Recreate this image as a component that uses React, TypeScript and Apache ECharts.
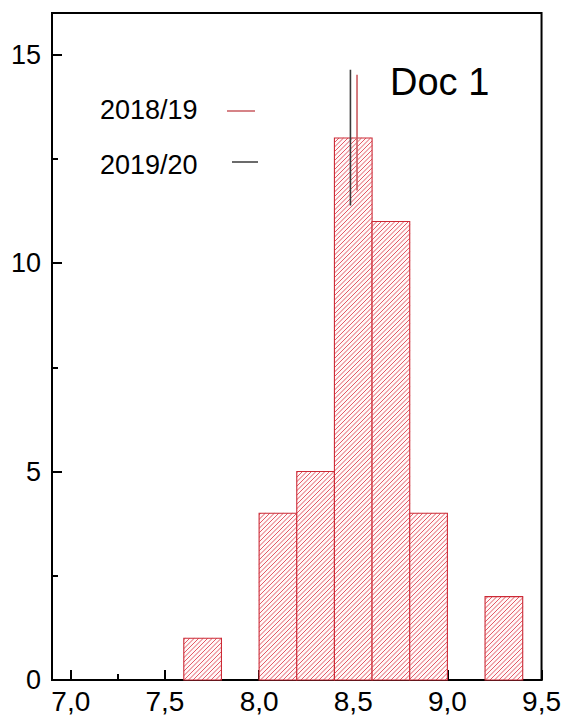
import React, { useEffect, useRef } from "react";
import * as echarts from "echarts";

// ---- data ----
const binLeft = [7.6, 8.0, 8.2, 8.4, 8.6, 8.8, 9.2];
const binWidth = 0.2;
const counts = [1, 4, 5, 13, 11, 4, 2];

const xMajorTicks = [7.0, 7.5, 8.0, 8.5, 9.0, 9.5];
const xMinorTicks = [7.25, 7.75, 8.25, 8.75, 9.25];
const yMajorTicks = [0, 5, 10, 15];
const yMinorTicks = [2.5, 7.5, 12.5];

const seriesNames = ["2018/19", "2019/20"];
const lineX = [8.52, 8.485];
const lineYLow = [11.74, 11.38];
const lineYHigh = [14.52, 14.64];

const title = "Doc 1";

const FONT = 'Arial, "Liberation Sans", Helvetica, sans-serif';
const RED_EDGE = "#cc2a36";
const RED_HATCH = "#e0505e";
const lineColors = ["#c95a5f", "#3a3a3a"];

export default function App() {
  const ref = useRef<HTMLDivElement>(null);
  useEffect(() => {
    const chart = echarts.init(ref.current!, null, { renderer: "svg" });
    const fmt = (v: number) => v.toFixed(1).replace(".", ",");
    const option: any = {
      animation: false,
      backgroundColor: "#fff",
      title: {
        text: title,
        left: 390,
        top: 63,
        padding: 0,
        textStyle: { fontSize: 38, fontWeight: "normal", color: "#000", fontFamily: FONT },
      },
      grid: {
        left: 52,
        right: 22,
        top: 13,
        bottom: 37,
        show: true,
        borderColor: "#000",
        borderWidth: 2,
        backgroundColor: "transparent",
      },
      xAxis: [
        {
          type: "value",
          min: 6.9,
          max: 9.5,
          position: "bottom",
          axisLine: { show: true, onZero: false, lineStyle: { color: "#000", width: 2 } },
          axisTick: {
            show: true,
            inside: true,
            length: 10,
            customValues: xMajorTicks,
            lineStyle: { color: "#000", width: 2 },
          },
          axisLabel: {
            customValues: xMajorTicks,
            formatter: (v: number) => fmt(v),
            fontSize: 28,
            color: "#000",
            fontFamily: FONT,
            margin: 7,
          },
          splitLine: { show: false },
        },
        {
          type: "value",
          min: 6.9,
          max: 9.5,
          position: "bottom",
          axisLine: { show: false, onZero: false },
          axisTick: {
            show: true,
            inside: true,
            length: 6,
            customValues: xMinorTicks,
            lineStyle: { color: "#000", width: 2 },
          },
          axisLabel: { show: false },
          splitLine: { show: false },
        },
      ],
      yAxis: [
        {
          type: "value",
          min: 0,
          max: 16,
          position: "left",
          axisLine: { show: true, onZero: false, lineStyle: { color: "#000", width: 2 } },
          axisTick: {
            show: true,
            inside: true,
            length: 10,
            customValues: yMajorTicks,
            lineStyle: { color: "#000", width: 2 },
          },
          axisLabel: {
            customValues: yMajorTicks,
            fontSize: 27,
            color: "#000",
            fontFamily: FONT,
            margin: 11,
          },
          splitLine: { show: false },
        },
        {
          type: "value",
          min: 0,
          max: 16,
          position: "left",
          axisLine: { show: false, onZero: false },
          axisTick: {
            show: true,
            inside: true,
            length: 6,
            customValues: yMinorTicks,
            lineStyle: { color: "#000", width: 2 },
          },
          axisLabel: { show: false },
          splitLine: { show: false },
        },
      ],
      graphic: [
        {
          type: "text",
          x: 100,
          y: 110,
          style: { text: seriesNames[0], fontSize: 27, fontFamily: FONT, fill: "#000", verticalAlign: "middle", align: "left" },
        },
        {
          type: "line",
          shape: { x1: 227, y1: 111, x2: 255, y2: 111 },
          style: { stroke: lineColors[0], lineWidth: 1.5 },
        },
        {
          type: "text",
          x: 100,
          y: 165,
          style: { text: seriesNames[1], fontSize: 27, fontFamily: FONT, fill: "#000", verticalAlign: "middle", align: "left" },
        },
        {
          type: "line",
          shape: { x1: 232, y1: 162, x2: 258, y2: 162 },
          style: { stroke: lineColors[1], lineWidth: 1.5 },
        },
      ],
      series: [
        {
          type: "custom",
          xAxisIndex: 0,
          yAxisIndex: 0,
          encode: { x: [0, 1], y: 2 },
          data: binLeft.map((l, i) => [l, l + binWidth, counts[i]]),
          renderItem: (params: any, api: any) => {
            const x0 = api.value(0);
            const x1 = api.value(1);
            const h = api.value(2);
            const tl = api.coord([x0, h]);
            const br = api.coord([x1, 0]);
            const L = tl[0], T = tl[1], R = br[0], B = br[1];
            const step = 4.5;
            const children: any[] = [];
            children.push({
              type: "rect",
              shape: { x: L, y: T, width: R - L, height: B - T },
              style: { fill: "#fff8f8", stroke: "none" },
            });
            for (let c = Math.ceil((L + T) / step) * step; c < R + B; c += step) {
              const xa = Math.max(L, c - B);
              const xb = Math.min(R, c - T);
              if (xb <= xa) continue;
              children.push({
                type: "line",
                shape: { x1: xa, y1: c - xa, x2: xb, y2: c - xb },
                style: { stroke: RED_HATCH, lineWidth: 0.95 },
                silent: true,
              });
            }
            children.push({
              type: "rect",
              shape: { x: L, y: T, width: R - L, height: B - T },
              style: { fill: "none", stroke: RED_EDGE, lineWidth: 1.1 },
            });
            return { type: "group", children };
          },
          z: 2,
        },
        ...seriesNames.map((name, i) => ({
          type: "line",
          name,
          xAxisIndex: 0,
          yAxisIndex: 0,
          symbol: "none",
          data: [
            [lineX[i], lineYLow[i]],
            [lineX[i], lineYHigh[i]],
          ],
          lineStyle: { color: lineColors[i], width: 1.6 },
          z: 5,
        })),
      ],
    };
    chart.setOption(option);
    return () => chart.dispose();
  }, []);
  return (
    <div
      ref={ref}
      style={{ position: "fixed", left: 0, top: 0, width: 564, height: 717, background: "#fff" }}
    />
  );
}
